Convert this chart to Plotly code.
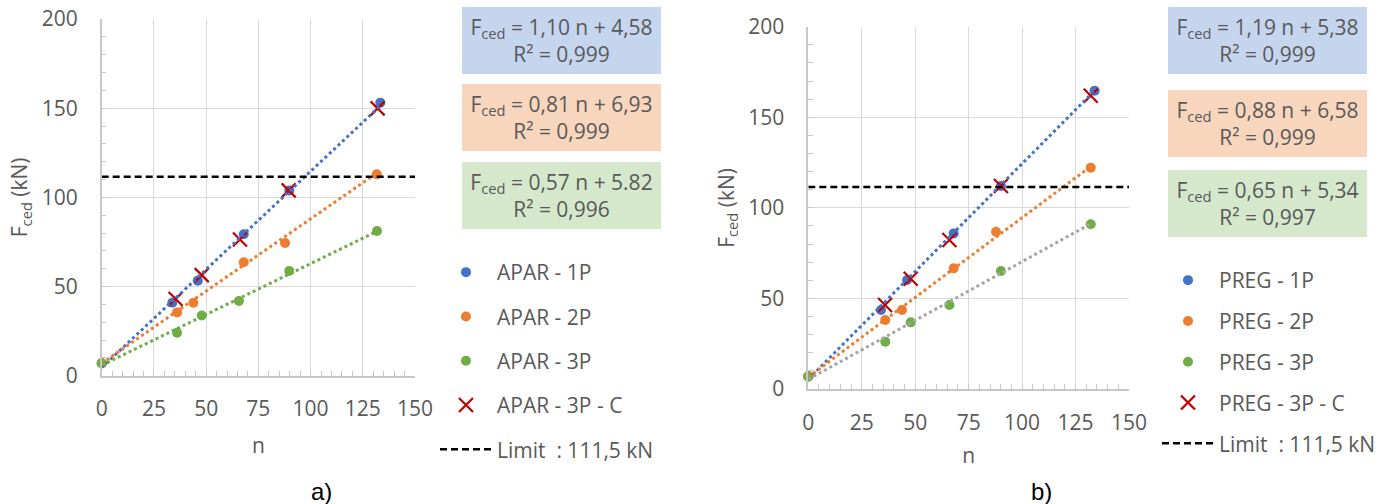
import plotly.graph_objects as go

# ---------------- data: panel a) APAR ----------------
n_a_1P = [0, 33.8, 46.0, 68.0, 89.8, 133.4]
F_a_1P = [7.0, 40.9, 53.3, 79.3, 103.9, 153.1]
n_a_2P = [0, 36.1, 43.9, 68.0, 87.8, 131.7]
F_a_2P = [7.0, 35.5, 40.9, 63.6, 74.4, 112.9]
n_a_3P = [0, 36.1, 47.9, 65.7, 89.8, 131.8]
F_a_3P = [7.0, 24.1, 33.8, 41.9, 58.7, 81.1]
n_a_3PC = [35.4, 47.9, 66.2, 89.5, 132.1]
F_a_3PC = [43.0, 56.4, 76.4, 103.9, 149.9]
trend_a = [(1.10, 4.58), (0.81, 6.93), (0.57, 5.82)]
eq_a = ["F<sub>ced</sub> = 1,10 n + 4,58<br>R² = 0,999",
        "F<sub>ced</sub> = 0,81 n + 6,93<br>R² = 0,999",
        "F<sub>ced</sub> = 0,57 n + 5.82<br>R² = 0,996"]
names_a = ["APAR - 1P", "APAR - 2P", "APAR - 3P", "APAR - 3P - C"]

# ---------------- data: panel b) PREG ----------------
n_b_1P = [0, 34.0, 46.2, 68.0, 90.1, 133.9]
F_b_1P = [7.0, 43.6, 60.2, 85.9, 112.1, 164.7]
n_b_2P = [0, 36.0, 43.8, 68.0, 87.8, 132.1]
F_b_2P = [7.0, 38.1, 43.6, 66.6, 86.8, 122.2]
n_b_3P = [0, 36.0, 47.9, 66.0, 90.1, 132.1]
F_b_3P = [6.8, 26.1, 36.8, 46.4, 65.1, 90.9]
n_b_3PC = [35.9, 47.9, 66.0, 90.1, 132.1]
F_b_3PC = [46.4, 60.9, 82.2, 112.1, 161.9]
trend_b = [(1.19, 5.38), (0.88, 6.58), (0.65, 5.34)]
eq_b = ["F<sub>ced</sub> = 1,19 n + 5,38<br>R² = 0,999",
        "F<sub>ced</sub> = 0,88 n + 6,58<br>R² = 0,999",
        "F<sub>ced</sub> = 0,65 n + 5,34<br>R² = 0,997"]
names_b = ["PREG - 1P", "PREG - 2P", "PREG - 3P", "PREG - 3P - C"]

limit_value = 111.5
limit_name = "Limit\u00a0 : 111,5 kN"
x_range = [0, 150]
y_range = [0, 200]

# ---------------- styling ----------------
W, H = 1394, 504
BLUE, ORANGE, GREEN, RED, GRAY = "#4472C4", "#ED7D31", "#70AD47", "#C00000", "#A5A5A5"
BOX_COLORS = ["#C6D5EE", "#F8D6BD", "#D5E8CB"]
TXT = "#595959"
FONT = "Open Sans"
FS = 21

fig = go.Figure()


def add_panel(xa, ya, legend, series, trend, trend_colors, names):
    cols = [BLUE, ORANGE, GREEN]
    for i, (nx, fy) in enumerate(series[:3]):
        fig.add_trace(go.Scatter(
            x=nx, y=fy, mode="markers", name=names[i],
            marker=dict(color=cols[i], size=10, symbol="circle"),
            xaxis=xa, yaxis=ya, legend=legend, legendgroup=legend + str(i),
            cliponaxis=False))
    nx, fy = series[3]
    fig.add_trace(go.Scatter(
        x=nx, y=fy, mode="markers", name=names[3],
        marker=dict(symbol="x-thin", size=14, line=dict(color=RED, width=2.2), color=RED),
        xaxis=xa, yaxis=ya, legend=legend, legendgroup=legend + "3",
        cliponaxis=False))
    for i, ((m, b), col) in enumerate(zip(trend, trend_colors)):
        xs = [min(series[i][0]), max(series[i][0])]
        fig.add_trace(go.Scatter(
            x=xs, y=[m * v + b for v in xs], mode="lines",
            line=dict(color=col, width=3, dash="dot"),
            showlegend=False, xaxis=xa, yaxis=ya, hoverinfo="skip"))
    fig.add_trace(go.Scatter(
        x=x_range, y=[limit_value, limit_value], mode="lines", name=limit_name,
        line=dict(color="black", width=2.5, dash="7px,4px"),
        xaxis=xa, yaxis=ya, legend=legend, legendgroup=legend + "4"))


add_panel("x", "y", "legend",
          [(n_a_1P, F_a_1P), (n_a_2P, F_a_2P), (n_a_3P, F_a_3P), (n_a_3PC, F_a_3PC)],
          trend_a, [BLUE, ORANGE, GREEN], names_a)
add_panel("x2", "y2", "legend2",
          [(n_b_1P, F_b_1P), (n_b_2P, F_b_2P), (n_b_3P, F_b_3P), (n_b_3PC, F_b_3PC)],
          trend_b, [BLUE, ORANGE, GRAY], names_b)


def xaxis_cfg(domain, anchor, lab_standoff, title_standoff):
    return dict(domain=domain, anchor=anchor, range=x_range, tick0=0, dtick=25,
                showgrid=True, gridcolor="#d9d9d9", gridwidth=1,
                showline=True, linecolor="#c8c8c8", linewidth=1.5, zeroline=False,
                ticks="inside", ticklen=5, tickcolor="#c8c8c8",
                minor=dict(dtick=5, ticks="inside", ticklen=5, tickcolor="#c8c8c8", showgrid=False),
                tickfont=dict(family=FONT, size=FS, color=TXT), ticklabelstandoff=lab_standoff,
                title=dict(text="n", font=dict(family=FONT, size=FS, color=TXT), standoff=title_standoff),
                automargin=False, fixedrange=True)


def yaxis_cfg(domain, anchor):
    return dict(domain=domain, anchor=anchor, range=y_range, tick0=0, dtick=50,
                showgrid=True, gridcolor="#d9d9d9", gridwidth=1,
                showline=True, linecolor="#c8c8c8", linewidth=1.5, zeroline=False,
                ticks="inside", ticklen=5, tickcolor="#c8c8c8",
                minor=dict(dtick=10, ticks="inside", ticklen=5, tickcolor="#c8c8c8", showgrid=False),
                tickfont=dict(family=FONT, size=FS, color=TXT), ticklabelstandoff=18,
                title=dict(text="F<sub>ced</sub> (kN)", font=dict(family=FONT, size=FS, color=TXT), standoff=8),
                automargin=False, fixedrange=True)


legend_common = dict(font=dict(family=FONT, size=FS, color=TXT), bgcolor="rgba(0,0,0,0)",
                     borderwidth=0, xanchor="left", yanchor="top", traceorder="grouped",
                     itemwidth=52, itemclick=False, itemdoubleclick=False)

fig.update_layout(
    width=W, height=H, margin=dict(l=0, r=0, t=0, b=0),
    paper_bgcolor="white", plot_bgcolor="white",
    xaxis=xaxis_cfg([101.7 / W, 415 / W], "y", 13, 18),
    yaxis=yaxis_cfg([1 - 375.7 / H, 1 - 19 / H], "x"),
    xaxis2=xaxis_cfg([808.3 / W, 1129 / W], "y2", 14, 13),
    yaxis2=yaxis_cfg([1 - 389 / H, 1 - 26.7 / H], "x2"),
    legend=dict(x=435 / W, y=1 - 252 / H, tracegroupgap=14, **legend_common),
    legend2=dict(x=1157 / W, y=1 - 260 / H, tracegroupgap=10.5, **legend_common),
)

box_specs = [(561.4, [40.2, 117.3, 195.7], eq_a), (1267.3, [40.3, 123.3, 203.3], eq_b)]
for cx, cys, eqs in box_specs:
    for cy, txt, col in zip(cys, eqs, BOX_COLORS):
        fig.add_annotation(x=cx / W, y=1 - cy / H, xref="paper", yref="paper",
                           xanchor="center", yanchor="middle", text=txt, showarrow=False,
                           width=199, height=67, bgcolor=col, borderpad=0, borderwidth=0,
                           align="center", valign="middle",
                           font=dict(family=FONT, size=FS, color=TXT))

for cx, lab in [(321.7, "a)"), (1041.7, "b)")]:
    fig.add_annotation(x=cx / W, y=1 - 491.7 / H, xref="paper", yref="paper",
                       xanchor="center", yanchor="middle", text=lab, showarrow=False,
                       font=dict(family="Liberation Sans", size=24, color="black"))

fig.write_html("out.html")
